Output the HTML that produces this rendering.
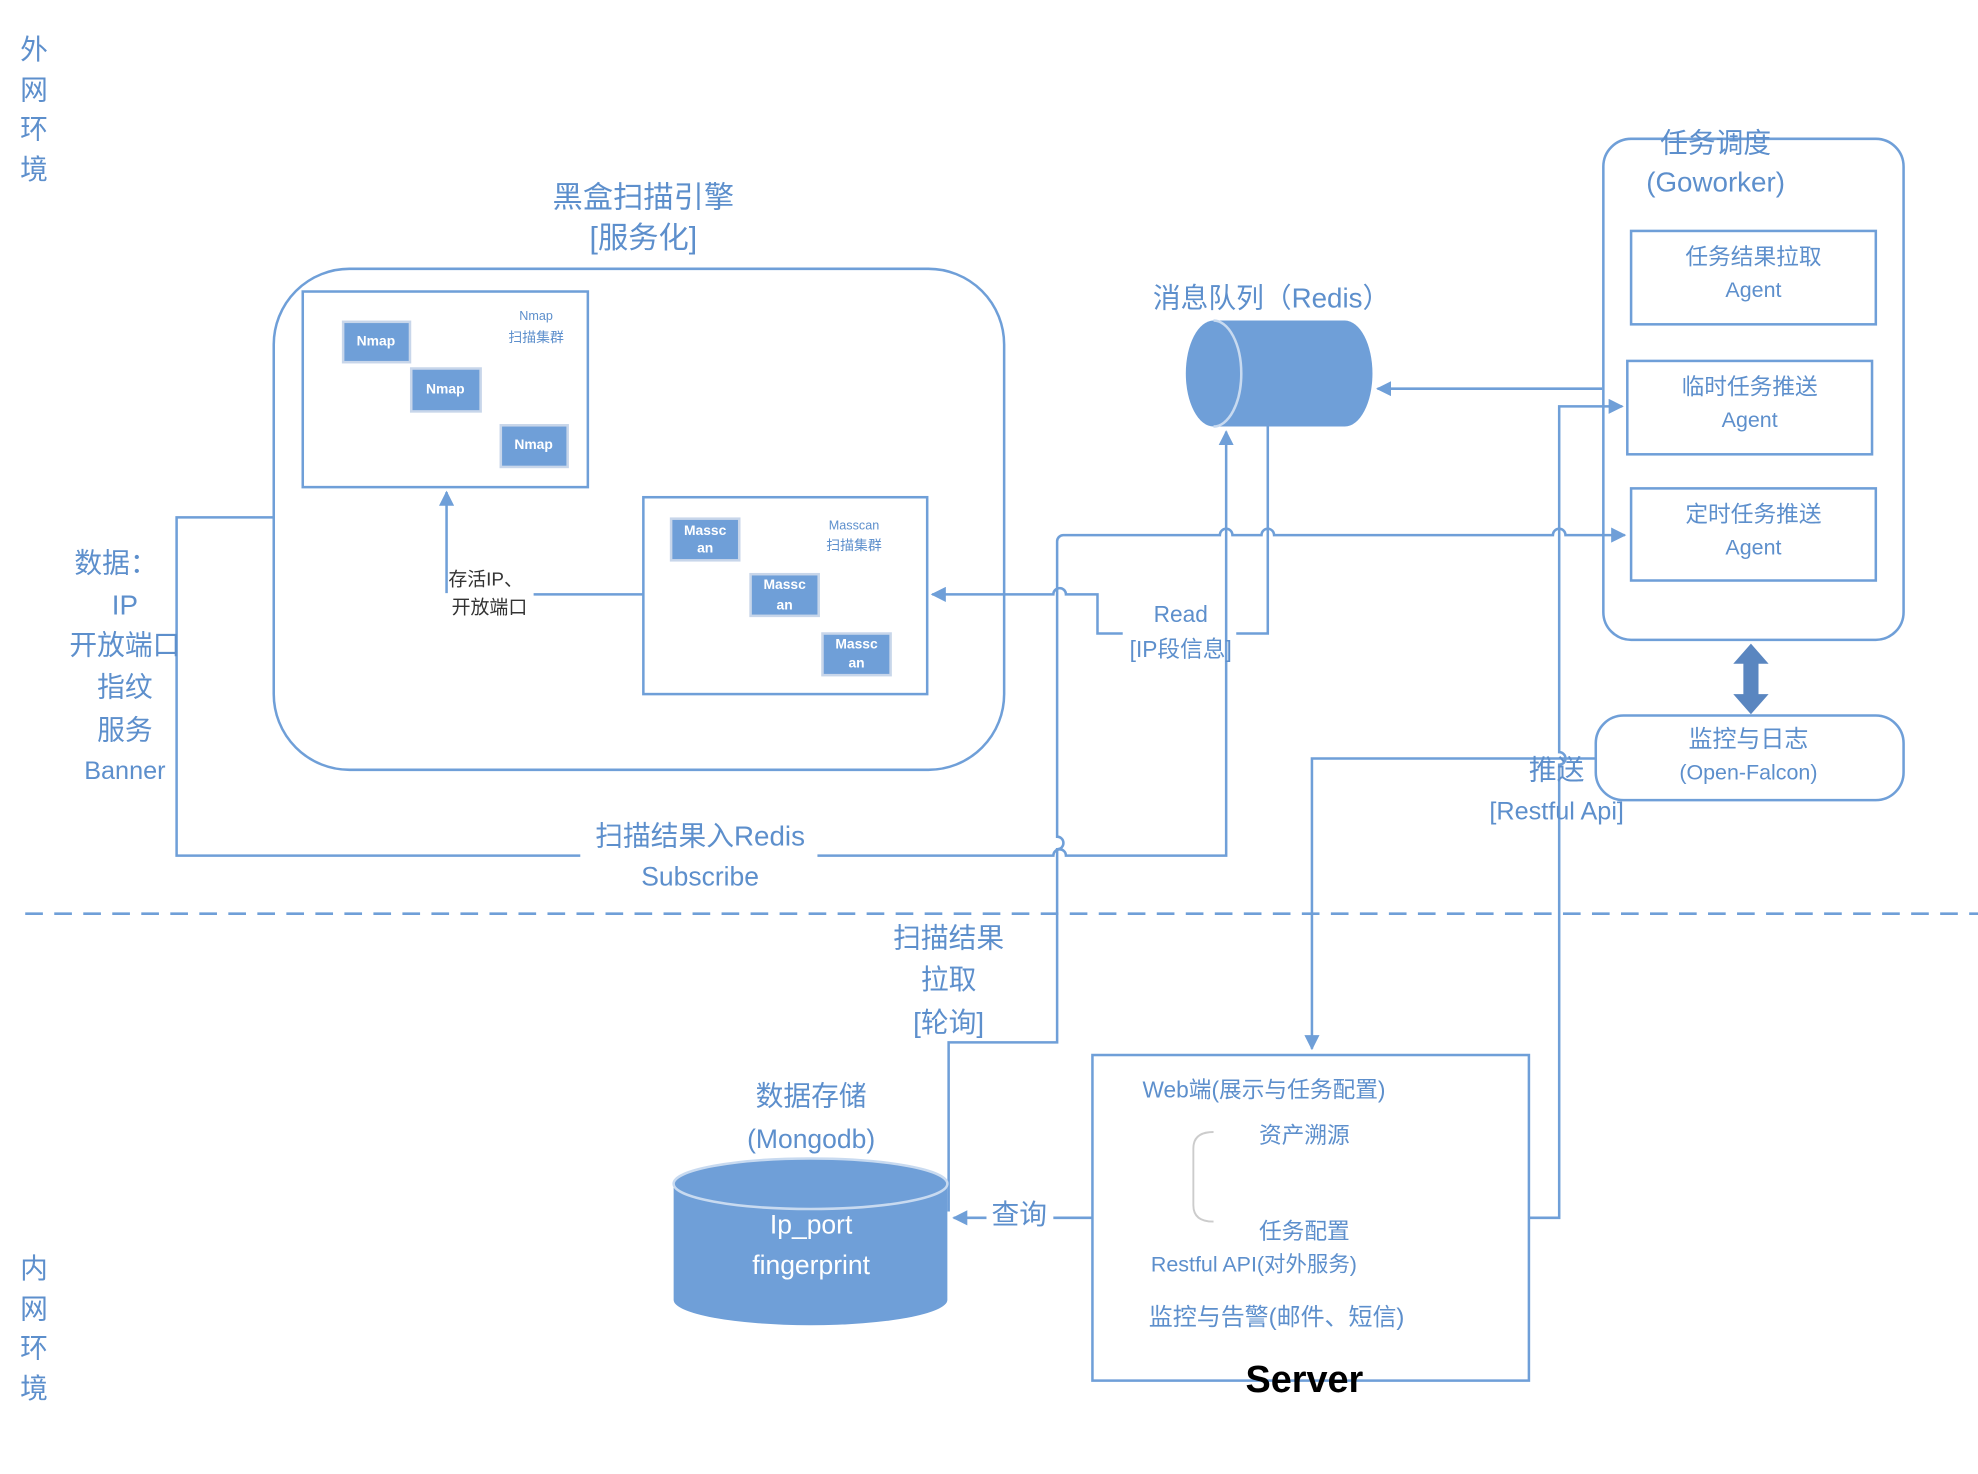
<!DOCTYPE html>
<html><head><meta charset="utf-8"><style>
html,body{margin:0;padding:0;background:#fff}
svg{display:block}
text{font-family:"Liberation Sans","Noto Sans CJK SC",sans-serif;fill:#5d8fcc;text-anchor:middle;dominant-baseline:middle}
.l{stroke:#6f9fd8;stroke-width:2;fill:none}
</style></head><body>
<svg width="1978" height="1474" viewBox="0 0 1568 1168" preserveAspectRatio="none">
<defs>
<marker id="a" viewBox="0 0 10 10" refX="9" refY="5" markerWidth="12" markerHeight="12" orient="auto-start-reverse" markerUnits="userSpaceOnUse"><path d="M0,0L10,5L0,10z" fill="#6f9fd8"/></marker>
<linearGradient id="g" x1="0" y1="0" x2="1" y2="1"><stop offset="0" stop-color="#eef2f9"/><stop offset="0.5" stop-color="#ffffff"/></linearGradient>
</defs>
<g font-size="22">
<text x="27" y="41">外</text><text x="27" y="73">网</text><text x="27" y="104">环</text><text x="27" y="136">境</text>
<text x="27" y="1007">内</text><text x="27" y="1039">网</text><text x="27" y="1070">环</text><text x="27" y="1102">境</text>
</g>
<text x="510" y="158" font-size="24">黑盒扫描引擎</text>
<text x="510" y="190" font-size="24">[服务化]</text>
<rect x="217" y="213" width="579" height="397" rx="60" fill="url(#g)" class="l"/>
<rect x="240" y="231" width="226" height="155" fill="#fff" stroke="#6f9fd8" stroke-width="2"/>
<g fill="#6f9fd8" stroke="#c8d6ea" stroke-width="2">
<rect x="272" y="255" width="53" height="32"/><rect x="326" y="292" width="55" height="34"/><rect x="397" y="337" width="53" height="33"/>
<rect x="532" y="411" width="54" height="33"/><rect x="595" y="455" width="54" height="33"/><rect x="652" y="502" width="54" height="33"/>
</g>
<g font-size="11" font-weight="bold"><text x="298" y="271" style="fill:#fff">Nmap</text><text x="353" y="309" style="fill:#fff">Nmap</text><text x="423" y="353" style="fill:#fff">Nmap</text>
<text x="559" y="421" style="fill:#fff">Massc</text><text x="559" y="435" style="fill:#fff">an</text>
<text x="622" y="464" style="fill:#fff">Massc</text><text x="622" y="480" style="fill:#fff">an</text>
<text x="679" y="511" style="fill:#fff">Massc</text><text x="679" y="526" style="fill:#fff">an</text></g>
<text x="425" y="251" font-size="10">Nmap</text><text x="425" y="268" font-size="11">扫描集群</text>
<rect x="510" y="394" width="225" height="156" fill="none" stroke="#6f9fd8" stroke-width="2"/>
<text x="677" y="417" font-size="10">Masscan</text><text x="677" y="433" font-size="11">扫描集群</text>
<path class="l" d="M510,471H423M354,470V390" marker-end="url(#a)"/>
<g font-size="15"><text x="385" y="460" style="fill:#333">存活IP、</text><text x="388" y="482" style="fill:#333">开放端口</text></g>
<path class="l" d="M217,410H140V678H460M648,678H835a5,5 0 0 1 10,0H972V342" marker-end="url(#a)"/>
<text x="555" y="664" font-size="22">扫描结果入Redis</text>
<text x="555" y="696" font-size="21">Subscribe</text>
<g font-size="22"><text x="92" y="448">数据：</text><text x="99" y="481">IP</text><text x="99" y="513">开放端口</text><text x="99" y="546">指纹</text><text x="99" y="580">服务</text><text x="99" y="612" font-size="20">Banner</text></g>
<text x="1008" y="238" font-size="22">消息队列（Redis）</text>
<path d="M962,254H1066A22,42 0 0 1 1066,338H962A22,42 0 0 1 962,254z" fill="#6f9fd8"/>
<path d="M962,254A22,42 0 0 1 962,338" fill="none" stroke="#c8daf0" stroke-width="2"/>
<path class="l" d="M1270,308H1092" marker-end="url(#a)"/>
<path class="l" d="M1005,338V502H980M890,502H870V471H845a5,5 0 0 0 -10,0H739" marker-end="url(#a)"/>
<text x="936" y="488" font-size="18">Read</text><text x="936" y="516" font-size="18">[IP段信息]</text>
<path class="l" d="M752,960V826H838V673a5,5 0 0 0 0,-10V429a5,5 0 0 1 5,-5H967a5,5 0 0 1 10,0H1000a5,5 0 0 1 10,0H1231a5,5 0 0 1 10,0H1288" marker-end="url(#a)"/>
<text x="752" y="745" font-size="22">扫描结果</text><text x="752" y="778" font-size="22">拉取</text><text x="752" y="812" font-size="22">[轮询]</text>
<path class="l" d="M1212,965H1236V606a5,5 0 0 0 0,-10V322H1286" marker-end="url(#a)"/>
<path class="l" d="M1265,601H1040V831" marker-end="url(#a)"/>
<text x="1234" y="612" font-size="22">推送</text><text x="1234" y="644" font-size="20">[Restful Api]</text>
<rect x="1271" y="110" width="238" height="397" rx="22" fill="url(#g)" class="l"/>
<text x="1360" y="115" font-size="22">任务调度</text><text x="1360" y="146" font-size="22">(Goworker)</text>
<g fill="none" stroke="#6f9fd8" stroke-width="2"><rect x="1293" y="183" width="194" height="74"/><rect x="1290" y="286" width="194" height="74"/><rect x="1293" y="387" width="194" height="73"/></g>
<g font-size="18"><text x="1390" y="205">任务结果拉取</text><text x="1390" y="231" font-size="17">Agent</text>
<text x="1387" y="308">临时任务推送</text><text x="1387" y="334" font-size="17">Agent</text>
<text x="1390" y="409">定时任务推送</text><text x="1390" y="435" font-size="17">Agent</text></g>
<path d="M1388,510L1402,526H1394V550H1402L1388,566L1374,550H1382V526H1374z" fill="#5a86c0"/>
<rect x="1265" y="567" width="244" height="67" rx="22" fill="#fff" class="l"/>
<text x="1386" y="587" font-size="19">监控与日志</text><text x="1386" y="613" font-size="17">(Open-Falcon)</text>
<path d="M20,724H1568" stroke="#6f9fd8" stroke-width="2" stroke-dasharray="14,9"/>
<text x="643" y="870" font-size="22">数据存储</text><text x="643" y="904" font-size="21">(Mongodb)</text>
<path d="M534,938V1030A108,20 0 0 0 751,1030V938z" fill="#6f9fd8"/>
<ellipse cx="642.5" cy="938" rx="108.5" ry="20" fill="#6f9fd8" stroke="#c8daf0" stroke-width="2"/>
<text x="643" y="972" font-size="21" style="fill:#fff">Ip_port</text><text x="643" y="1004" font-size="21" style="fill:#fff">fingerprint</text>
<path class="l" d="M866,965H835M782,965H756" marker-end="url(#a)"/>
<text x="808" y="964" font-size="22">查询</text>
<rect x="866" y="836" width="346" height="258" fill="url(#g)" class="l"/>
<text x="1002" y="865" font-size="18">Web端(展示与任务配置)</text>
<path d="M962,897Q946,897 946,910V955Q946,968 962,968" fill="none" stroke="#ccc" stroke-width="1.5"/>
<text x="1034" y="901" font-size="18">资产溯源</text><text x="1034" y="977" font-size="18">任务配置</text>
<text x="994" y="1003" font-size="17">Restful API(对外服务)</text>
<text x="1012" y="1045" font-size="19">监控与告警(邮件、短信)</text>
<text x="1034" y="1095" font-size="30" font-weight="bold" style="fill:#000">Server</text>
</svg>
</body></html>
